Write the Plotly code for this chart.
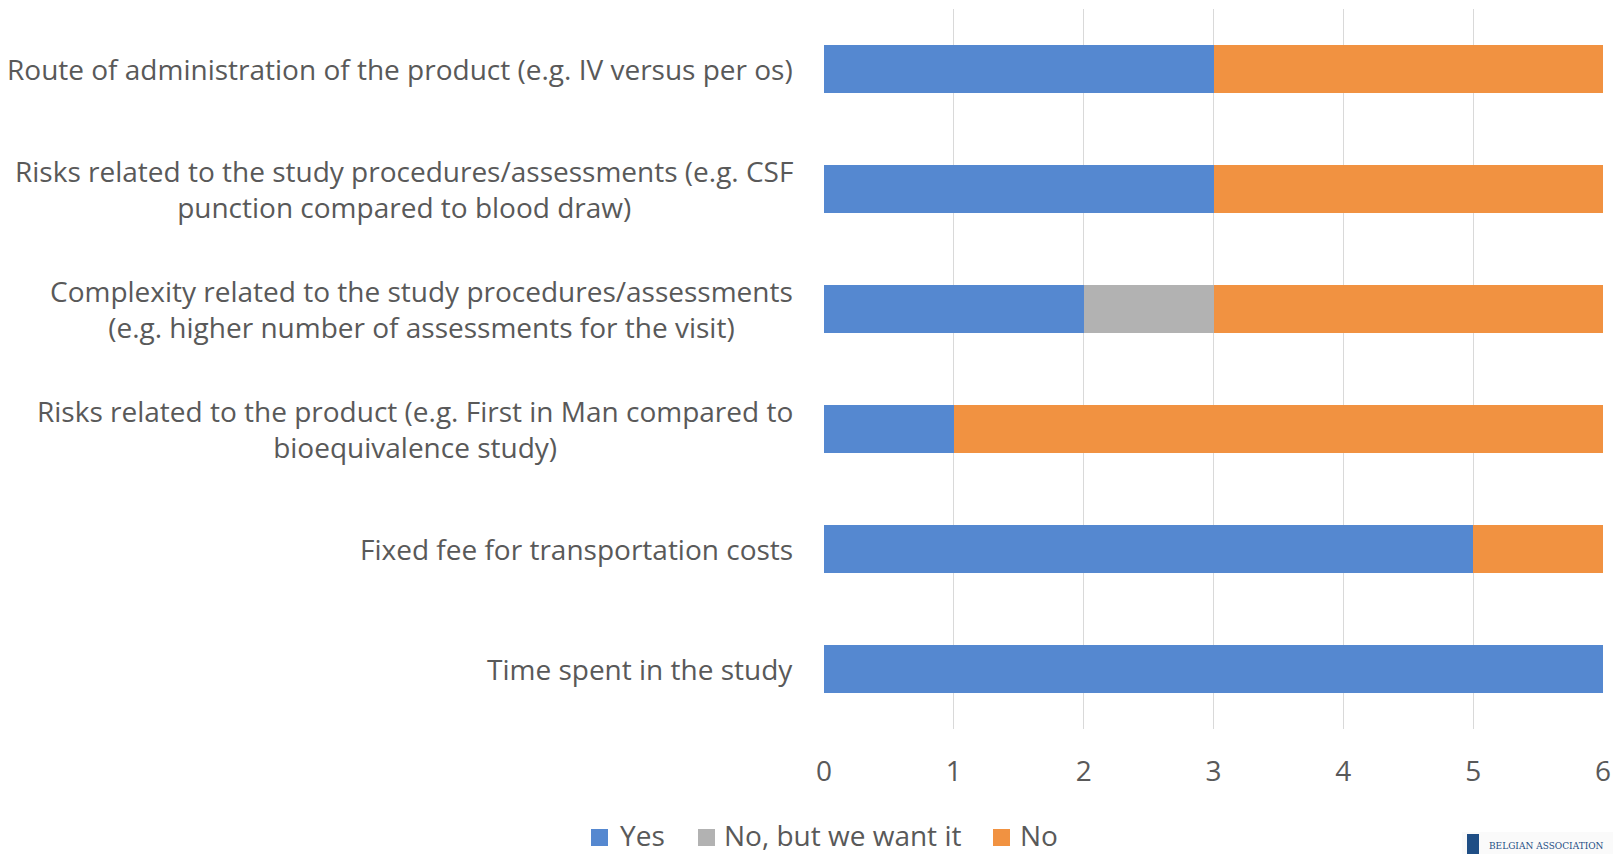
import plotly.graph_objects as go

categories = [
    "Route of administration of the product (e.g. IV versus per os)",
    "Risks related to the study procedures/assessments (e.g. CSF<br>punction compared to blood draw)",
    "Complexity related to the study procedures/assessments<br>(e.g. higher number of assessments for the visit)",
    "Risks related to the product (e.g. First in Man compared to<br>bioequivalence study)",
    "Fixed fee for transportation costs",
    "Time spent in the study",
]
yes = [3, 3, 2, 1, 5, 6]
no_but_want = [0, 0, 1, 0, 0, 0]
no = [3, 3, 3, 5, 1, 0]
x_ticks = [0, 1, 2, 3, 4, 5, 6]
series_names = ["Yes", "No, but we want it", "No"]
series_colors = ["#5588D0", "#B2B2B2", "#F19241"]

FONT = "Open Sans"
TXT = "#595959"
FS = 28

# page geometry (body has 8px margin)
PL, PR, PT, PB = 824, 1603, 9, 729
def px(x):
    return (x - PL) / (PR - PL)
def py(y):
    return (PB - y) / (PB - PT)

fig = go.Figure()
for name, vals, col in zip(series_names, [yes, no_but_want, no], series_colors):
    fig.add_trace(go.Bar(y=categories, x=vals, name=name, orientation="h",
                         marker=dict(color=col, line=dict(width=0)), showlegend=False))

for c in categories:
    fig.add_annotation(x=0, xref="paper", y=c, yref="y", text=c, showarrow=False,
                       xanchor="right", align="center", xshift=-30, borderpad=0,
                       font=dict(family=FONT, size=FS, color=TXT))

# legend (squares + labels)
leg_sq = [591, 698, 993]
leg_tx = [619, 723, 1019]
for name, col, sx, tx in zip(series_names, series_colors, leg_sq, leg_tx):
    fig.add_shape(type="rect", xref="paper", yref="paper", x0=px(sx), x1=px(sx + 17),
                  y0=py(829), y1=py(846), fillcolor=col, line=dict(width=0))
    fig.add_annotation(x=px(tx), xref="paper", y=py(835), yref="paper", text=name,
                       showarrow=False, xanchor="left", yanchor="middle", borderpad=0,
                       font=dict(family=FONT, size=FS, color=TXT))

# logo fragment bottom right
fig.add_shape(type="rect", xref="paper", yref="paper", x0=px(1462), x1=px(1625),
              y0=py(832), y1=py(860), fillcolor="#FAFAFA", line=dict(width=0), layer="below")
fig.add_shape(type="rect", xref="paper", yref="paper", x0=px(1467), x1=px(1479),
              y0=py(834), y1=py(860), fillcolor="#1F4E85", line=dict(width=0))
fig.add_annotation(x=px(1488), xref="paper", y=py(852), yref="paper",
                   text="BELGIAN ASSOCIATION", showarrow=False, xanchor="left", yanchor="bottom",
                   borderpad=0, font=dict(family="DejaVu Serif", size=9, color="#1F4E85"))

fig.update_layout(
    barmode="stack",
    bargap=0.595,
    width=1613, height=846,
    margin=dict(l=816, r=18, t=1, b=125),
    paper_bgcolor="white", plot_bgcolor="white",
    font=dict(family=FONT, size=FS, color=TXT),
    showlegend=False,
    xaxis=dict(range=[0, 6], tickvals=x_ticks, showgrid=True, gridcolor="#D9D9D9", gridwidth=1.3,
               zeroline=False, showline=False, ticks="", tickfont=dict(size=FS, color=TXT),
               ticklabelstandoff=23),
    yaxis=dict(autorange="reversed", showticklabels=False, showgrid=False, zeroline=False,
               showline=False, ticks=""),
)

fig.write_html("out.html")
